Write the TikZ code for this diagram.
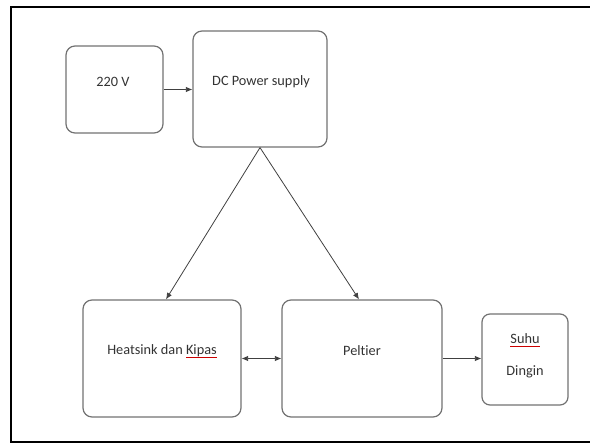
\documentclass[tikz,border=0pt]{standalone}
\usepackage{fontspec}
\setmainfont{Carlito}[Ligatures=NoCommon]
\usetikzlibrary{arrows.meta}
\newsavebox\ulbox
\newcommand\redul[1]{\sbox\ulbox{#1}\rlap{\usebox\ulbox}\textcolor{red!80!black}{\rule[-2.8pt]{\wd\ulbox}{0.7pt}}}
\definecolor{boxgray}{HTML}{727272}
\definecolor{txtgray}{HTML}{333333}
\tikzset{
  blockbox/.style={draw=boxgray, line width=1.2pt, rounded corners=9pt, inner sep=0pt},
  blocktext/.style={text=txtgray, font=\fontsize{14.3}{17}\selectfont, inner sep=0pt, anchor=center},
  conn/.style={draw=black!75, line width=0.8pt, -{Latex[length=6.5pt,width=5.5pt]}},
  conn2/.style={draw=black!75, line width=0.8pt, {Latex[length=6.5pt,width=5.5pt]}-{Latex[length=6.5pt,width=5.5pt]}},
}
\begin{document}
\begin{tikzpicture}[x=1pt,y=-1pt]
\useasboundingbox (0,0) rectangle (590,444);
% frame (left, top, bottom; right edge beyond the picture)
\draw[line width=1.6pt] (592,7) -- (11,7) -- (11,442) -- (592,442);
% boxes
\node[blockbox, minimum width=97pt, minimum height=87pt] (a) at (114.5,89.5) {};
\node[blockbox, minimum width=134pt, minimum height=116pt] (b) at (260,89) {};
\node[blockbox, minimum width=158pt, minimum height=117pt] (c) at (162,358.5) {};
\node[blockbox, minimum width=160pt, minimum height=117pt] (d) at (362,358.5) {};
\node[blockbox, minimum width=86pt, minimum height=91pt, rounded corners=8pt] (e) at (525,359.5) {};
% texts
\node[blocktext] (ta) at (113,82) {220 V};
\node[blocktext] (tb) at (261,82) {DC Power supply};
\node[blocktext] (tc) at (162,351) {Heatsink dan \redul{Kipas}};
\node[blocktext] (td) at (362,351) {Peltier};
\node[blocktext] (te1) at (525,340) {\redul{Suhu}};
\node[blocktext] (te2) at (525,372) {Dingin};
% connectors
\draw[conn] (a.east) -- (a.east -| b.west);
\draw[conn] (b.south) -- ([xshift=4pt]c.north);
\draw[conn] (b.south) -- ([xshift=-3pt]d.north);
\draw[conn2] (c.east) -- (d.west);
\draw[conn] (d.east) -- (d.east -| e.west);
\end{tikzpicture}
\end{document}
